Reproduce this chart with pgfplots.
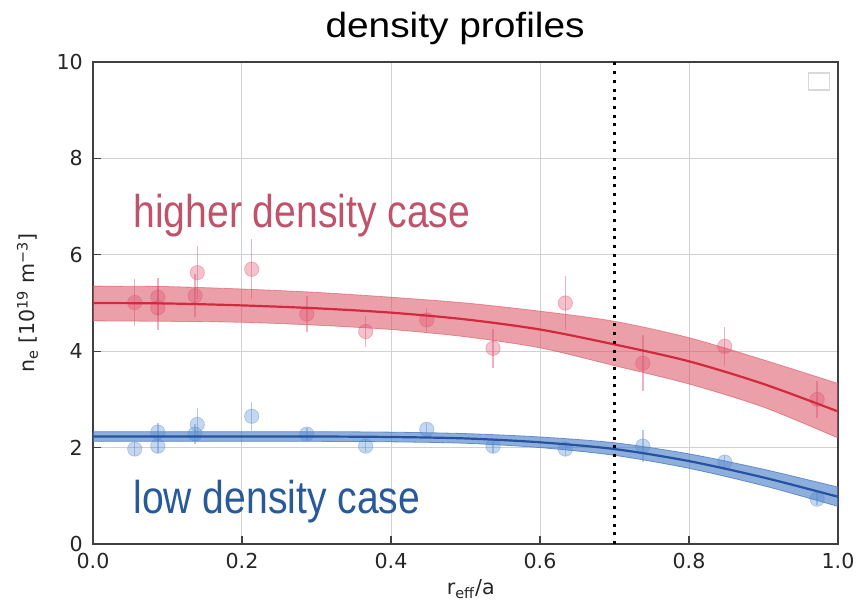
\documentclass[border=0pt]{standalone}
\usepackage{fontspec}
\setmainfont{DejaVu Sans}
\newfontfamily\headfont{Liberation Sans}
\usepackage{graphicx}
\usepackage{pgfplots}
\pgfplotsset{compat=1.18}
\usepackage{pgfplotstable}

\definecolor{hiline}{RGB}{212,40,62}
\definecolor{hiband}{RGB}{218,82,98}
\definecolor{himark}{RGB}{222,80,112}
\definecolor{hitext}{RGB}{191,83,108}
\definecolor{loline}{RGB}{38,82,162}
\definecolor{loband}{RGB}{72,124,198}
\definecolor{lomark}{RGB}{88,138,208}
\definecolor{lotext}{RGB}{40,90,155}

% measured profiles: r_eff/a, n_e, error
\pgfplotstableread{
r      n     e
0.056  5.01  0.48
0.087  5.12  0.40
0.087  4.90  0.45
0.137  5.15  0.45
0.140  5.63  0.55
0.213  5.70  0.62
0.287  4.77  0.38
0.366  4.41  0.32
0.448  4.65  0.25
0.537  4.06  0.40
0.634  5.00  0.55
0.738  3.75  0.58
0.848  4.10  0.41
0.972  3.00  0.38
}\highpts

\pgfplotstableread{
r      n     e
0.056  1.97  0.15
0.087  2.03  0.15
0.087  2.32  0.18
0.137  2.28  0.20
0.140  2.48  0.35
0.213  2.65  0.30
0.287  2.28  0.12
0.366  2.03  0.12
0.448  2.38  0.12
0.537  2.03  0.15
0.634  1.97  0.15
0.738  2.03  0.33
0.848  1.70  0.15
0.972  0.93  0.12
}\lowpts

% fitted profiles with the edges of their uncertainty bands
\pgfplotstableread{
r    c     up    lo
0.0  5.00  5.35  4.63
0.1  4.99  5.34  4.62
0.2  4.95  5.29  4.60
0.3  4.89  5.22  4.54
0.4  4.80  5.12  4.45
0.5  4.66  5.00  4.30
0.6  4.45  4.83  4.07
0.7  4.14  4.62  3.70
0.8  3.79  4.28  3.32
0.9  3.32  3.82  2.84
1.0  2.75  3.33  2.20
}\highfit

\pgfplotstableread{
r    c     up    lo
0.0  2.23  2.33  2.13
0.1  2.23  2.33  2.13
0.2  2.23  2.33  2.13
0.3  2.23  2.33  2.13
0.4  2.22  2.32  2.12
0.5  2.19  2.29  2.09
0.6  2.11  2.22  2.00
0.7  1.97  2.10  1.84
0.8  1.72  1.87  1.57
0.9  1.38  1.55  1.21
1.0  0.98  1.18  0.78
}\lowfit

% band outlines as closed polygons (upper edge out, lower edge back);
% corner points are repeated so the smoothing keeps the edges straight there
\pgfplotstableread{
r    n
0.0  5.35
0.0  5.35
0.1  5.34
0.2  5.29
0.3  5.22
0.4  5.12
0.5  5.00
0.6  4.83
0.7  4.62
0.8  4.28
0.9  3.82
1.0  3.33
1.0  3.33
1.0  2.20
1.0  2.20
0.9  2.84
0.8  3.32
0.7  3.70
0.6  4.07
0.5  4.30
0.4  4.45
0.3  4.54
0.2  4.60
0.1  4.62
0.0  4.63
0.0  4.63
}\highband

\pgfplotstableread{
r    n
0.0  2.33
0.0  2.33
0.1  2.33
0.2  2.33
0.3  2.33
0.4  2.32
0.5  2.29
0.6  2.22
0.7  2.10
0.8  1.87
0.9  1.55
1.0  1.18
1.0  1.18
1.0  0.78
1.0  0.78
0.9  1.21
0.8  1.57
0.7  1.84
0.6  2.00
0.5  2.09
0.4  2.12
0.3  2.13
0.2  2.13
0.1  2.13
0.0  2.13
0.0  2.13
}\lowband

\begin{document}
\begin{tikzpicture}
\useasboundingbox (-46.5pt,-33.5pt) rectangle (382.5pt,272pt);
\begin{axis}[
  at={(0,0)}, anchor=south west,
  scale only axis, width=372.5pt, height=241pt,
  xmin=0, xmax=1, ymin=0, ymax=10,
  xtick={0,0.2,0.4,0.6,0.8,1.0},
  ytick={0,2,4,6,8,10},
  /pgf/number format/assume math mode=true,
  xticklabel style={/pgf/number format/fixed,
    /pgf/number format/fixed zerofill,
    /pgf/number format/precision=1, yshift=-1pt},
  yticklabel style={xshift=-1.6pt},
  tick label style={font=\fontsize{10.3pt}{12pt}\selectfont, text=black!85},
  label style={font=\fontsize{10.3pt}{12pt}\selectfont, text=black!85},
  tick pos=left, tick align=inside,
  major tick length=4pt,
  tick style={black!75, line width=0.6pt},
  axis line style={draw=black!75, line width=1pt},
  grid=major,
  major grid style={black!18, line width=0.5pt},
  xlabel={r\textsubscript{eff}/a},
  ylabel={n\textsubscript{e} [10\textsuperscript{19} m\textsuperscript{−3}]},
  xlabel style={at={(axis description cs:0.507,-0.1056)}, anchor=base},
  ylabel style={at={(axis description cs:-0.0779,0.5)}, anchor=base},
  clip mode=individual,
]
% uncertainty bands
\addplot[fill=hiband, fill opacity=0.55, draw=none, smooth, tension=0.4] table[x=r,y=n]{\highband};
\addplot[hiband, opacity=0.6, line width=0.4pt, smooth] table[x=r,y=up]{\highfit};
\addplot[hiband, opacity=0.6, line width=0.4pt, smooth] table[x=r,y=lo]{\highfit};
\addplot[fill=loband, fill opacity=0.62, draw=none, smooth, tension=0.4] table[x=r,y=n]{\lowband};
\addplot[loband, opacity=0.8, line width=0.4pt, smooth] table[x=r,y=up]{\lowfit};
\addplot[loband, opacity=0.8, line width=0.4pt, smooth] table[x=r,y=lo]{\lowfit};

% measurements
\addplot[only marks, mark=*, mark size=3.6pt,
  mark options={fill=himark, draw=himark, opacity=0.35},
  error bars/.cd, y dir=both, y explicit,
  error bar style={himark, opacity=0.45, line width=0.7pt}, error mark=none]
  table[x=r, y=n, y error=e]{\highpts};
\addplot[only marks, mark=*, mark size=3.6pt,
  mark options={fill=lomark, draw=lomark, opacity=0.35},
  error bars/.cd, y dir=both, y explicit,
  error bar style={lomark, opacity=0.45, line width=0.7pt}, error mark=none]
  table[x=r, y=n, y error=e]{\lowpts};

% fitted profiles
\addplot[hiline, line width=1.1pt, smooth] table[x=r,y=c]{\highfit};
\addplot[loline, line width=1.1pt, smooth] table[x=r,y=c]{\lowfit};

% separatrix position r_eff/a = 0.7
\addplot[black, line width=1.5pt, dash pattern=on 1.5pt off 2.85pt] coordinates {(0.7,0) (0.7,10)};

% empty legend frame
\draw[black!15, line width=0.6pt] (axis cs:0.960,9.42) rectangle (axis cs:0.989,9.77);

\node[anchor=base west, inner sep=0, text=hitext, font=\headfont\fontsize{23pt}{26pt}\selectfont]
  at (axis cs:0.0537,6.556) {\scalebox{0.85}[1]{higher density case}};
\node[anchor=base west, inner sep=0, text=lotext, font=\headfont\fontsize{23pt}{26pt}\selectfont]
  at (axis cs:0.0537,0.643) {\scalebox{0.85}[1]{low density case}};
\node[anchor=base, inner sep=0, font=\headfont\fontsize{17.5pt}{20pt}\selectfont]
  at (rel axis cs:0.486,1.0518) {\scalebox{1.11}[1]{density profiles}};
\end{axis}
\end{tikzpicture}
\end{document}
